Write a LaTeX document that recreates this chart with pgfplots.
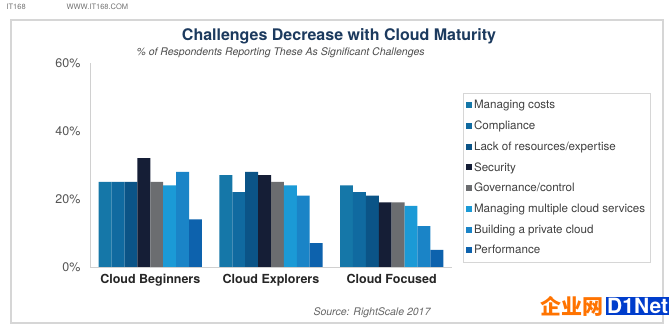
\documentclass[border=0pt]{standalone}
\usepackage{pgfplots}
\pgfplotsset{compat=1.18}
\usepackage{fontspec}
\setmainfont{TeX Gyre Heros}
\newfontfamily\cjk{Noto Sans CJK SC}
\definecolor{cCost}{HTML}{1577A8}
\definecolor{cComp}{HTML}{106AA0}
\definecolor{cLack}{HTML}{0B5487}
\definecolor{cSec}{HTML}{151E36}
\definecolor{cGov}{HTML}{6B6D70}
\definecolor{cMulti}{HTML}{1B9AD6}
\definecolor{cPriv}{HTML}{1A84C7}
\definecolor{cPerf}{HTML}{0D62AD}
\definecolor{titlec}{HTML}{1C3A5E}
\definecolor{framec}{HTML}{D6D6D6}
\definecolor{axisc}{HTML}{D0D0D0}
\definecolor{tickc}{HTML}{555555}
\begin{document}
\begin{tikzpicture}[x=1pt,y=1pt]
\path[fill=white] (0,0) rectangle (670,334);
% outer frame
\draw[framec,line width=1.2pt] (11,11) rectangle (663,314);
% watermark top-left
\node[anchor=west,text=black!55,font=\fontsize{7.5}{8}\selectfont] at (3,327) {IT168};
\node[anchor=west,text=black!55,font=\fontsize{7.5}{8}\selectfont] at (63,327) {WWW.IT168.COM};
% title
\node[text=titlec,font=\bfseries\fontsize{16}{18}\selectfont] at (339,298) {Challenges Decrease with Cloud Maturity};
\node[anchor=west,text=black!70,font=\itshape\fontsize{10.5}{12}\selectfont] at (133,281) {\% of Respondents Reporting These As Significant Challenges};
\begin{axis}[
  at={(90pt,67pt)}, anchor=south west,
  scale only axis, width=362pt, height=204pt,
  ybar=0pt, bar width=12.9pt,
  xmin=-0.5, xmax=2.5, ymin=0, ymax=60,
  axis x line=bottom, axis y line=left,
  axis line style={axisc,-}, 
  xtick={0,1,2}, xticklabels={Cloud Beginners,Cloud Explorers,Cloud Focused},
  ytick={0,20,40,60}, yticklabels={0\%,20\%,40\%,60\%},
  major tick length=0pt,
  xticklabel style={font=\bfseries\fontsize{12.5}{14}\selectfont, text=black!85, yshift=-4pt},
  yticklabel style={font=\fontsize{12.5}{14}\selectfont, text=tickc, xshift=-6pt},
  legend style={at={(1.03,0.853)}, anchor=north west, draw=framec, fill=white,
    font=\fontsize{11.6}{13}\selectfont, text=black!75, row sep=6.7pt,
    inner xsep=3pt, inner ysep=5pt},
  legend cell align=left,
  legend image code/.code={\fill[#1,draw=none] (0pt,-3pt) rectangle (6pt,3pt);},
  clip=false,
]
\addplot[fill=cCost,draw=none] coordinates {(0,25) (1,27) (2,24)};
\addplot[fill=cComp,draw=none] coordinates {(0,25) (1,22) (2,22)};
\addplot[fill=cLack,draw=none] coordinates {(0,25) (1,28) (2,21)};
\addplot[fill=cSec,draw=none] coordinates {(0,32) (1,27) (2,19)};
\addplot[fill=cGov,draw=none] coordinates {(0,25) (1,25) (2,19)};
\addplot[fill=cMulti,draw=none] coordinates {(0,24) (1,24) (2,18)};
\addplot[fill=cPriv,draw=none] coordinates {(0,28) (1,21) (2,12)};
\addplot[fill=cPerf,draw=none] coordinates {(0,14) (1,7) (2,5)};
\legend{Managing costs,Compliance,Lack of resources/expertise,Security,Governance/control,Managing multiple cloud services,Building a private cloud,Performance}
\end{axis}
\node[anchor=west,text=black!60,font=\itshape\fontsize{10.5}{12}\selectfont] at (310,21) {Source: RightScale 2017};
% logo watermark
\node[anchor=west,text=orange!90!red,font=\cjk\bfseries\fontsize{21}{22}\selectfont,inner sep=0] at (540,28) {企业网};
\node[anchor=west,fill=blue!70!cyan!80!black,text=white,font=\bfseries\fontsize{21}{22}\selectfont,inner sep=1pt] at (606,28) {D1Net};
\end{tikzpicture}
\end{document}
